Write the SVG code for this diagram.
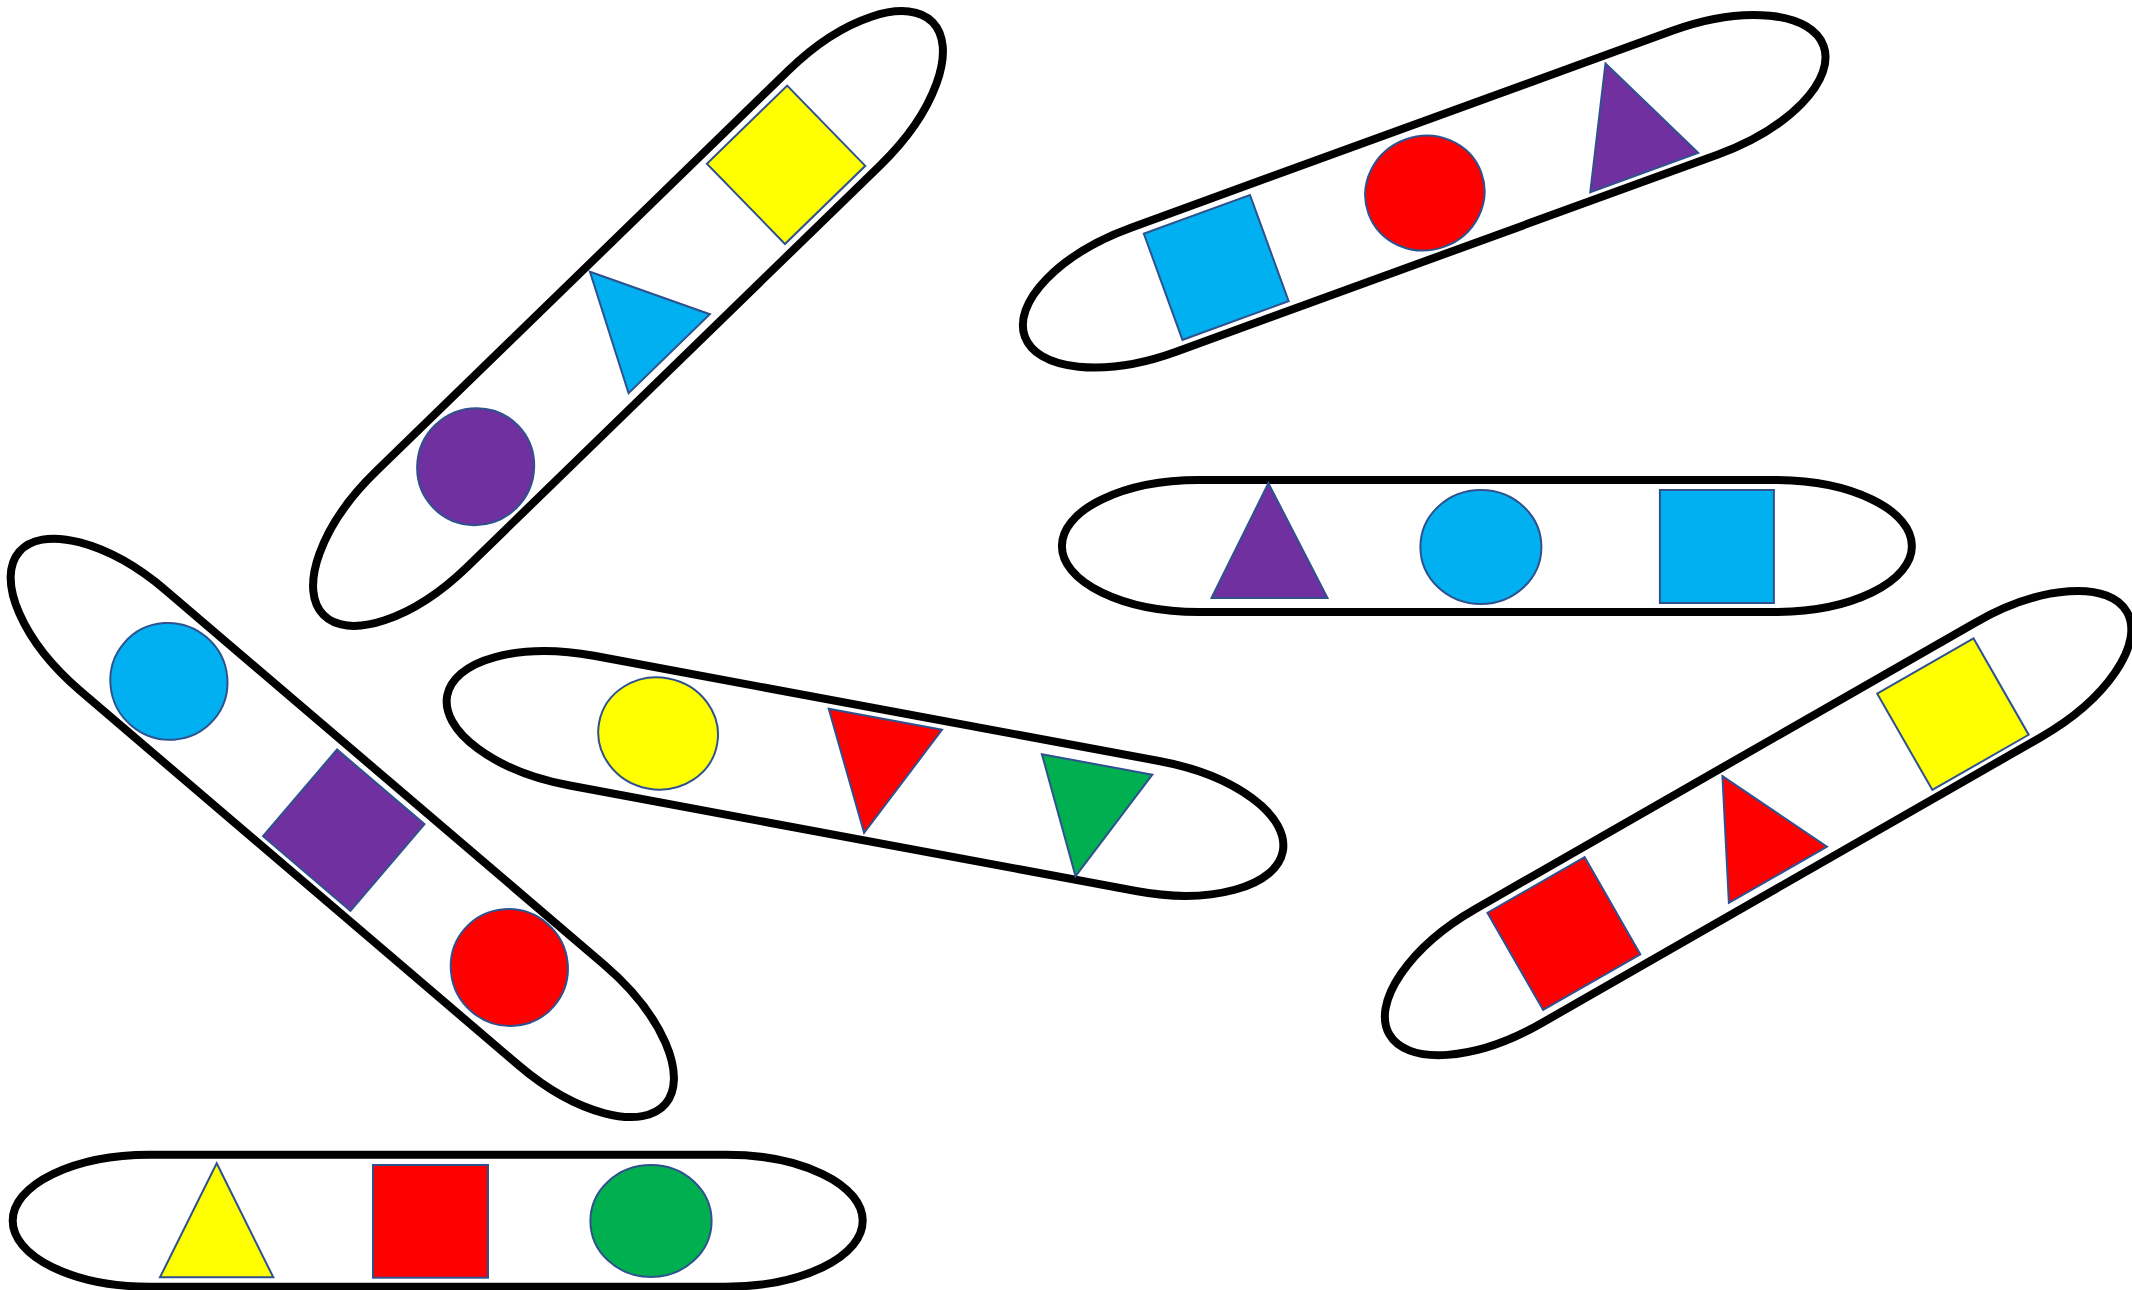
<svg xmlns="http://www.w3.org/2000/svg" width="2132" height="1290" viewBox="0 0 2132 1290">
<style>
.cap{fill:none;stroke:#000;stroke-width:8;stroke-linejoin:round}
.s{stroke:#2F528F;stroke-width:2}
.y{fill:#FFFF00}.b{fill:#00B0F0}.p{fill:#7030A0}.r{fill:#FF0000}.g{fill:#00B050}
</style>
<defs>
<path id="capsule" d="M -288,-66 L 288,-66 A 137 66 0 0 1 288,66 L -288,66 A 137 66 0 0 1 -288,-66 Z"/>
</defs>
<rect width="2132" height="1290" fill="#fff"/>

<g id="capsule-1" transform="translate(628,318.5) rotate(-44.2)">
<use href="#capsule" class="cap"/>
<ellipse class="s p" cx="-212.5" cy="0" rx="59" ry="58"/>
<polygon class="s b" points="5.3,-60 61.7,54 -51.7,54"/>
<rect class="s y" x="164.5" y="-56" width="112" height="112"/>
</g>

<g id="capsule-2" transform="translate(1424.2,191.2) rotate(-20)">
<use href="#capsule" class="cap"/>
<rect class="s b" x="-278" y="-56" width="113" height="113"/>
<ellipse class="s r" cx="0" cy="2" rx="60" ry="57"/>
<polygon class="s p" points="214,-58 270.6,57.7 155.7,57.7"/>
</g>

<g id="capsule-3" transform="translate(1486.9,546)">
<use href="#capsule" class="cap"/>
<polygon class="s p" points="-218.5,-62.7 -159.4,52 -275.4,52"/>
<ellipse class="s b" cx="-6" cy="1" rx="60.5" ry="57"/>
<rect class="s b" x="173" y="-56" width="114" height="113"/>
</g>

<g id="capsule-4" transform="translate(342.3,827.9) rotate(40.5)">
<use href="#capsule" class="cap"/>
<ellipse class="s b" cx="-227" cy="1.2" rx="59" ry="58"/>
<rect class="s p" x="-54.9" y="-56.2" width="115" height="114"/>
<ellipse class="s r" cx="217.7" cy="-2.3" rx="59" ry="58"/>
</g>

<g id="capsule-5" transform="translate(865,773.4) rotate(10.55)">
<use href="#capsule" class="cap"/>
<ellipse class="s y" cx="-210.7" cy="-1.4" rx="60" ry="56"/>
<polygon class="s r" points="-47.5,-57 67.7,-57 10,58.6"/>
<polygon class="s g" points="170.4,-51.3 282.7,-51.3 225.8,62.5"/>
</g>

<g id="capsule-6" transform="translate(1758.1,823.1) rotate(-29.8)">
<use href="#capsule" class="cap"/>
<rect class="s r" x="-279.4" y="-56.7" width="112" height="112"/>
<polygon class="s r" points="-7.6,-58.5 48,54.7 -65,54.7"/>
<rect class="s y" x="167.7" y="-53.2" width="111" height="111"/>
</g>

<g id="capsule-7" transform="translate(437.7,1220.7)">
<use href="#capsule" class="cap"/>
<polygon class="s y" points="-221,-57.4 -164.4,56.6 -277.7,56.6"/>
<rect class="s r" x="-64.7" y="-55.7" width="115" height="112.7"/>
<ellipse class="s g" cx="213.3" cy="0.3" rx="60.6" ry="56"/>
</g>
</svg>
